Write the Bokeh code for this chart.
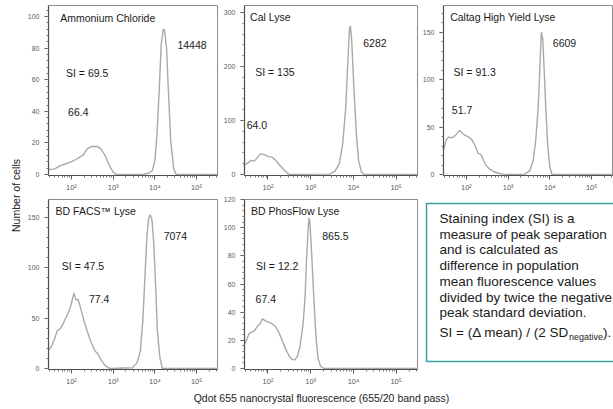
import math
from bokeh.plotting import figure
from bokeh.models import Range1d, Label, FixedTicker, SingleIntervalTicker
from bokeh.layouts import row, column
from bokeh.embed import file_html
from bokeh.resources import INLINE
from bokeh.core.properties import value

# ---------------- data ----------------
panel_titles = ["Ammonium Chloride", "Cal Lyse", "Caltag High Yield Lyse",
                "BD FACS\u2122 Lyse", "BD PhosFlow Lyse"]
neg_means = ["66.4", "64.0", "51.7", "77.4", "67.4"]
pos_means = ["14448", "6282", "6609", "7074", "865.5"]
staining_index = ["69.5", "135", "91.3", "47.5", "12.2"]

# histograms: log10 of fluorescence and number of cells
amm_log = [1.40, 1.60, 1.73, 1.85, 1.96, 2.08, 2.19, 2.29, 2.37, 2.48, 2.62, 2.71, 2.81, 2.91,
           3.00, 3.08, 3.73, 3.85, 3.94, 4.00, 4.05, 4.11, 4.15, 4.20, 4.23, 4.28, 4.32, 4.38,
           4.45, 4.51, 5.60]
amm_cnt = [3.0, 3.6, 5.6, 6.7, 7.7, 9.2, 10.9, 12.6, 16.1, 17.8, 17.8, 16.1, 11.9, 5.6,
           1.5, 0, 0.2, 0.8, 2.5, 8.8, 25.5, 57, 82, 92, 91.4, 80, 55, 21,
           3.6, 0, 0]

cal_log = [1.36, 1.41, 1.52, 1.60, 1.68, 1.76, 1.82, 1.90, 2.00, 2.10, 2.18, 2.28, 2.39, 2.47,
           2.52, 3.45, 3.57, 3.67, 3.75, 3.82, 3.87, 3.91, 3.93, 3.96, 4.01, 4.07, 4.12, 4.19,
           4.25, 5.60]
cal_cnt = [15, 16.6, 21, 26, 24.6, 32, 38, 37, 33, 32, 26, 16.6, 7.4, 1.2,
           0, 0.6, 6, 20, 57, 124, 211, 272, 275, 248, 161, 75, 26, 4.3,
           0, 0]

caltag_log = [1.40, 1.46, 1.51, 1.57, 1.65, 1.73, 1.80, 1.84, 1.91, 1.98, 2.06, 2.14, 2.22,
              2.28, 2.35, 2.41, 2.47, 2.55, 2.65, 2.77, 2.89, 2.97, 3.40, 3.52, 3.60, 3.66,
              3.72, 3.76, 3.79, 3.80, 3.83, 3.86, 3.90, 3.95, 4.00, 4.05, 5.60]
caltag_cnt = [25, 27, 36, 39.4, 38.7, 41, 44.7, 46.5, 43, 41, 39.4, 36, 29,
              22.5, 21, 14.8, 9.5, 6, 3.2, 1.4, 0.4, 0, 0.4, 4.2, 14.8, 36,
              71, 113, 145, 150, 141.5, 113, 71, 29, 7.7, 0, 0]

facs_log = [1.40, 1.49, 1.54, 1.60, 1.66, 1.73, 1.79, 1.86, 1.92, 1.98, 2.03, 2.06, 2.11,
            2.16, 2.22, 2.30, 2.38, 2.46, 2.56, 2.64, 2.72, 2.80, 2.88, 2.94, 3.46, 3.57,
            3.65, 3.71, 3.76, 3.81, 3.85, 3.89, 3.93, 3.97, 4.02, 4.06, 4.12, 4.18, 5.60]
facs_cnt = [17, 19.8, 23.8, 30, 37.6, 39.3, 43.6, 50, 55, 61.7, 70, 75, 68,
            69, 60, 47.5, 37, 27, 17.8, 13.9, 7.9, 3.3, 0.7, 0, 0.7, 5.6,
            17, 47, 90, 133, 149, 153, 147.5, 126, 80, 37, 10.6, 0, 0]

phos_log = [1.40, 1.44, 1.50, 1.56, 1.63, 1.69, 1.75, 1.82, 1.87, 1.93, 2.01, 2.09, 2.17,
            2.25, 2.34, 2.42, 2.50, 2.56, 2.63, 2.69, 2.75, 2.82, 2.87, 2.90, 2.94, 2.96,
            2.98, 3.02, 3.07, 3.12, 3.17, 3.23, 3.31, 5.60]
phos_cnt = [15, 17, 20.5, 25, 26, 27, 30, 32, 35.3, 34, 33, 32, 30,
            26, 19.3, 13.4, 8.7, 6.4, 6.1, 8.7, 15.8, 31, 52, 76, 99, 107,
            104, 83, 52, 24, 7.5, 1.6, 0, 0]

x_tick_values = [100, 1000, 10000, 100000]
x_tick_labels = ["10\u00b2", "10\u00b3", "10\u2074", "10\u2075"]

y_label = "Number of cells"
x_label = "Qdot 655 nanocrystal fluorescence (655/20 band pass)"

box_lines = ["Staining index (SI) is a",
             "measure of peak separation",
             "and is calculated as",
             "difference in population",
             "mean fluorescence values",
             "divided by twice the negative",
             "peak standard deviation."]
formula_main = "SI = (\u0394 mean) / (2 SD"
formula_sub = "negative"
formula_end = ")."

# ---------------- layout / style ----------------
FONT = "Liberation Sans"
CURVE = "#a9a9a9"
TEAL = "#3f9ea1"
X_LO, X_HI = 1.45, 5.5
minor_x = [k * 10 ** e for e in range(1, 6) for k in range(2, 10)]

series = [(amm_log, amm_cnt), (cal_log, cal_cnt), (caltag_log, caltag_cnt),
          (facs_log, facs_cnt), (phos_log, phos_cnt)]
y_ranges = [(-0.6, 107), (-2, 313), (-1, 178), (-1, 168), (-0.7, 120)]
y_steps = [20, 100, 50, 50, 20]
# label anchor positions (log10 x, y) : title, positive mean, SI, negative mean
label_pos = [
    [(1.73, 99.2), (4.54, 82), (1.87, 64.2), (1.92, 39.7)],
    [(1.58, 291), (4.23, 243), (1.70, 189), (1.50, 92.4)],
    [(1.61, 166), (4.07, 139), (1.69, 108), (1.65, 67.6)],
    [(1.62, 156.8), (4.21, 132), (1.77, 102.3), (2.42, 69)],
    [(1.60, 111.8), (3.27, 94.1), (1.72, 72.9), (1.71, 49.2)],
]
# (width, height, border_left, border_top, border_bottom)
sizes = [(194, 195, 24, 5, 20), (200, 195, 26, 5, 20), (195, 195, 25, 5, 20),
         (194, 194, 24, 4, 20), (200, 194, 26, 4, 20)]


def make_panel(i):
    w, h, bl, bt, bb = sizes[i]
    p = figure(width=w, height=h, x_axis_type="log", title=None,
               x_range=Range1d(10 ** X_LO, 10 ** X_HI),
               y_range=Range1d(*y_ranges[i]),
               output_backend="svg", toolbar_location=None,
               min_border=0, min_border_left=bl, min_border_right=1,
               min_border_top=bt, min_border_bottom=bb,
               background_fill_color="white", border_fill_color="white",
               outline_line_color="#8c8c8c", outline_line_width=1)
    p.grid.visible = False
    lx, cnt = series[i]
    p.line([10 ** v for v in lx], cnt, line_color=CURVE, line_width=1.4)

    for ax in (p.xaxis[0], p.yaxis[0]):
        ax.axis_line_color = "#4d4d4d"
        ax.axis_line_width = 1.2
        ax.major_tick_line_color = "#555555"
        ax.minor_tick_line_color = "#777777"
        ax.major_tick_in = 0
        ax.major_tick_out = 4
        ax.minor_tick_in = 0
        ax.minor_tick_out = 2
        ax.major_label_text_font = FONT
        ax.major_label_text_color = "#5a5a5a"
    p.yaxis.major_label_text_font_size = "7px"
    p.yaxis.major_label_standoff = 5
    p.yaxis.ticker = SingleIntervalTicker(interval=y_steps[i], num_minor_ticks=5)
    p.xaxis.major_label_text_font_size = "7.5px"
    p.xaxis.major_label_standoff = 3
    p.xaxis.ticker = FixedTicker(ticks=x_tick_values, minor_ticks=minor_x)
    p.xaxis.major_label_overrides = dict(zip(x_tick_values, x_tick_labels))

    texts = [panel_titles[i], pos_means[i], "SI = " + staining_index[i], neg_means[i]]
    for t, (ax_, ay_) in zip(texts, label_pos[i]):
        p.add_layout(Label(x=10 ** ax_, y=ay_, text=t, text_font=FONT,
                           text_font_size="10.5px", text_color="#1a1a1a",
                           text_align="left", text_baseline="middle"))
    return p


panels = [make_panel(i) for i in range(5)]


def blank(w, h, bt=0, bb=0):
    # local coordinates: pixels, y measured from the bottom of the whole figure
    f = figure(width=w, height=h, title=None,
               x_range=Range1d(0, w), y_range=Range1d(bb, h - bt),
               x_axis_location=None, y_axis_location=None,
               output_backend="svg", toolbar_location=None, min_border=0,
               min_border_top=bt, min_border_bottom=bb,
               outline_line_color=None, background_fill_color="white",
               border_fill_color="white")
    f.grid.visible = False
    return f


# text box (its frame is aligned with the neighbouring panels: borders 4 / 20)
box = blank(195, 194, bt=4, bb=20)
box.quad(left=8, right=400, top=186, bottom=28, fill_color=None,
         line_color=TEAL, line_width=1.5)
line_y = [171 - 15.7 * k for k in range(len(box_lines))]
box.text(x=[21] * len(box_lines), y=line_y, text=box_lines,
         text_font=value(FONT), text_font_size=value("13.5px"),
         text_color="#1a1a1a", text_align="left", text_baseline="middle")
box.text(x=[21], y=[57], text=[formula_main], text_font=value(FONT),
         text_font_size=value("13.5px"), text_color="#1a1a1a",
         text_align="left", text_baseline="middle")
box.text(x=[150.5], y=[52.5], text=[formula_sub], text_font=value(FONT),
         text_font_size=value("9px"), text_color="#1a1a1a",
         text_align="left", text_baseline="middle")
box.text(x=[184.5], y=[57], text=[formula_end], text_font=value(FONT),
         text_font_size=value("13.5px"), text_color="#1a1a1a",
         text_align="left", text_baseline="middle")

# y label strip
ylab = blank(24, 389, bt=5, bb=20)
ylab.text(x=[15], y=[194], text=[y_label], angle=math.pi / 2,
          text_font=value(FONT), text_font_size=value("10.5px"),
          text_color="#222222", text_align="center", text_baseline="middle")

# x label strip
xlab = blank(613, 20)
xlab.text(x=[321], y=[12], text=[x_label], text_font=value(FONT),
          text_font_size=value("10.5px"), text_color="#222222",
          text_align="center", text_baseline="middle")

grid = column(row(panels[0], panels[1], panels[2]),
              row(panels[3], panels[4], box))
layout = column(row(ylab, grid), xlab)

open("out.html", "w").write(file_html(layout, INLINE))
